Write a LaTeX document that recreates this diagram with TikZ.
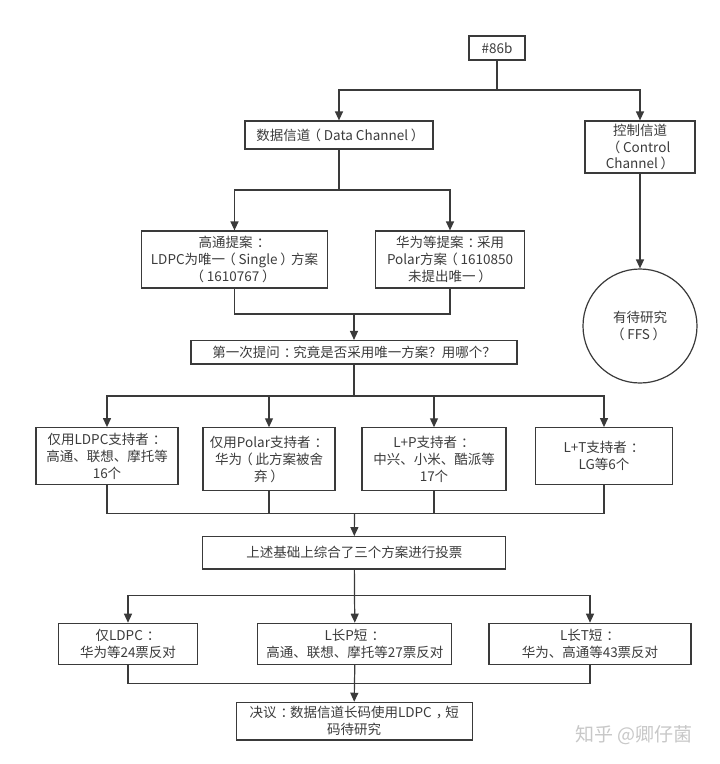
\documentclass[tikz,border=0pt]{standalone}
\usepackage{fontspec}
\setmainfont{Noto Sans CJK SC}
\usetikzlibrary{arrows.meta,calc}
\definecolor{ln}{HTML}{3A3A3A}
\definecolor{tx}{HTML}{3C3C3C}
\definecolor{wm}{HTML}{C8C8C8}
\newcommand\LP{\hspace{-0.2em}（\hspace{0.2em}}
\newcommand\RP{\hspace{0.2em}）\hspace{-0.2em}}
\newcommand\CO{\hspace{0.3em}：\hspace{-0.3em}}
\newcommand\CM{\hspace{0.3em}，\hspace{-0.3em}}
\tikzset{
  box/.style={draw=ln,line width=1.2pt,fill=white,inner sep=0pt,align=center,
    text=tx,font=\fontsize{13.5}{17}\selectfont},
  circ/.style={draw=ln,line width=1.2pt,circle,inner sep=0pt,align=center,
    text=tx,font=\fontsize{13.5}{17}\selectfont,minimum size=114pt},
  wire/.style={draw=ln,line width=1.2pt},
  arr/.style={wire,-{Triangle[length=9pt,width=8pt]}}
}
\begin{document}
\begin{tikzpicture}[x=1pt,y=-1pt]
\useasboundingbox (0,0) rectangle (720,764);
\fill[white] (0,0) rectangle (720,764);
% nodes
\node[box,minimum width=56pt,minimum height=24pt] (root) at (497,48) {\#86b};
\node[box,minimum width=188pt,minimum height=28pt] (data) at (339,135) {数据信道\LP Data Channel\RP};
\node[box,minimum width=110pt,minimum height=52pt,font=\fontsize{13.5}{16.5}\selectfont] (ctrl) at (640,147) {控制信道\\\LP Control\\Channel\RP};
\node[box,minimum width=186pt,minimum height=57pt] (qc) at (234.5,259.5) {高通提案\CO\\LDPC为唯一\LP Single\RP 方案\\\LP 1610767\RP};
\node[box,minimum width=149pt,minimum height=57pt] (hw) at (450,259.5) {华为等提案\CO 采用\\Polar方案\LP 1610850\\未提出唯一\RP};
\node[circ] (ffs) at (640,326) {有待研究\\\LP FFS\RP};
\node[box,minimum width=326pt,minimum height=23.5pt] (q) at (354,352.3) {第一次提问\CO 究竟是否采用唯一方案？用哪个？};
\node[box,minimum width=142pt,minimum height=56.6pt] (s1) at (107,456) {仅用LDPC支持者\CO\\高通、联想、摩托等\\16个};
\node[box,minimum width=132pt,minimum height=62.3pt] (s2) at (269,459) {仅用Polar支持者\CO\\华为\LP 此方案被舍\\弃\RP};
\node[box,minimum width=144pt,minimum height=62.3pt] (s3) at (434,459) {L+P支持者\CO\\中兴、小米、酷派等\\17个};
\node[box,minimum width=137pt,minimum height=56.6pt] (s4) at (604,456) {L+T支持者\CO\\LG等6个};
\node[box,minimum width=303pt,minimum height=32.3pt] (vote) at (354.3,552.8) {上述基础上综合了三个方案进行投票};
\node[box,minimum width=139pt,minimum height=41pt] (v1) at (128,643.8) {仅LDPC\CO\\华为等24票反对};
\node[box,minimum width=194pt,minimum height=41pt] (v2) at (354.8,643.8) {L长P短\CO\\高通、联想、摩托等27票反对};
\node[box,minimum width=202pt,minimum height=41pt] (v3) at (590,643.8) {L长T短\CO\\华为、高通等43票反对};
\node[box,minimum width=236pt,minimum height=37.7pt] (dec) at (354.2,721.2) {决议\CO 数据信道长码使用LDPC\CM 短\\码待研究};
\node[text=wm,font=\fontsize{19}{19}\selectfont,inner sep=0pt] (wmk) at (634,735) {知乎 @卿仔菌};
% junctions
\coordinate (j1) at (497,90);
\coordinate (j2) at (339,190);
\coordinate (m1) at (354,314);
\coordinate (j3) at (354,396);
\coordinate (m2) at (354.5,513.3);
\coordinate (j4) at (354.5,595.7);
\coordinate (m3) at (354.5,683.3);
% connectors
\draw[wire] (root) -- (j1);
\draw[arr] (j1) -| (data.north);
\draw[arr] (j1) -| (ctrl.north);
\draw[wire] (data) -- (j2);
\draw[arr] (j2) -| (qc.north);
\draw[arr] (j2) -| (hw.north);
\draw[arr] (ctrl) -- (ffs);
\draw[wire] (qc.south) |- (m1) -| (hw.south);
\draw[arr] (m1) -- (q.north);
\draw[wire] (q) -- (j3);
\draw[arr] (j3) -| (s1.north);
\draw[arr] (j3) -| (s2.north);
\draw[arr] (j3) -| (s3.north);
\draw[arr] (j3) -| (s4.north);
\draw[wire] (s1.south) |- (m2) -| (s4.south);
\draw[wire] (s2.south) -- (s2.south |- m2);
\draw[wire] (s3.south) -- (s3.south |- m2);
\draw[arr] (m2) -- (vote.north);
\draw[wire] (vote) -- (j4);
\draw[arr] (j4) -| (v1.north);
\draw[arr] (j4) -- (v2.north);
\draw[arr] (j4) -| (v3.north);
\draw[wire] (v1.south) |- (m3) -| (v3.south);
\draw[wire] (v2.south) -- (m3);
\draw[arr] (m3) -- (dec.north);
\end{tikzpicture}
\end{document}
